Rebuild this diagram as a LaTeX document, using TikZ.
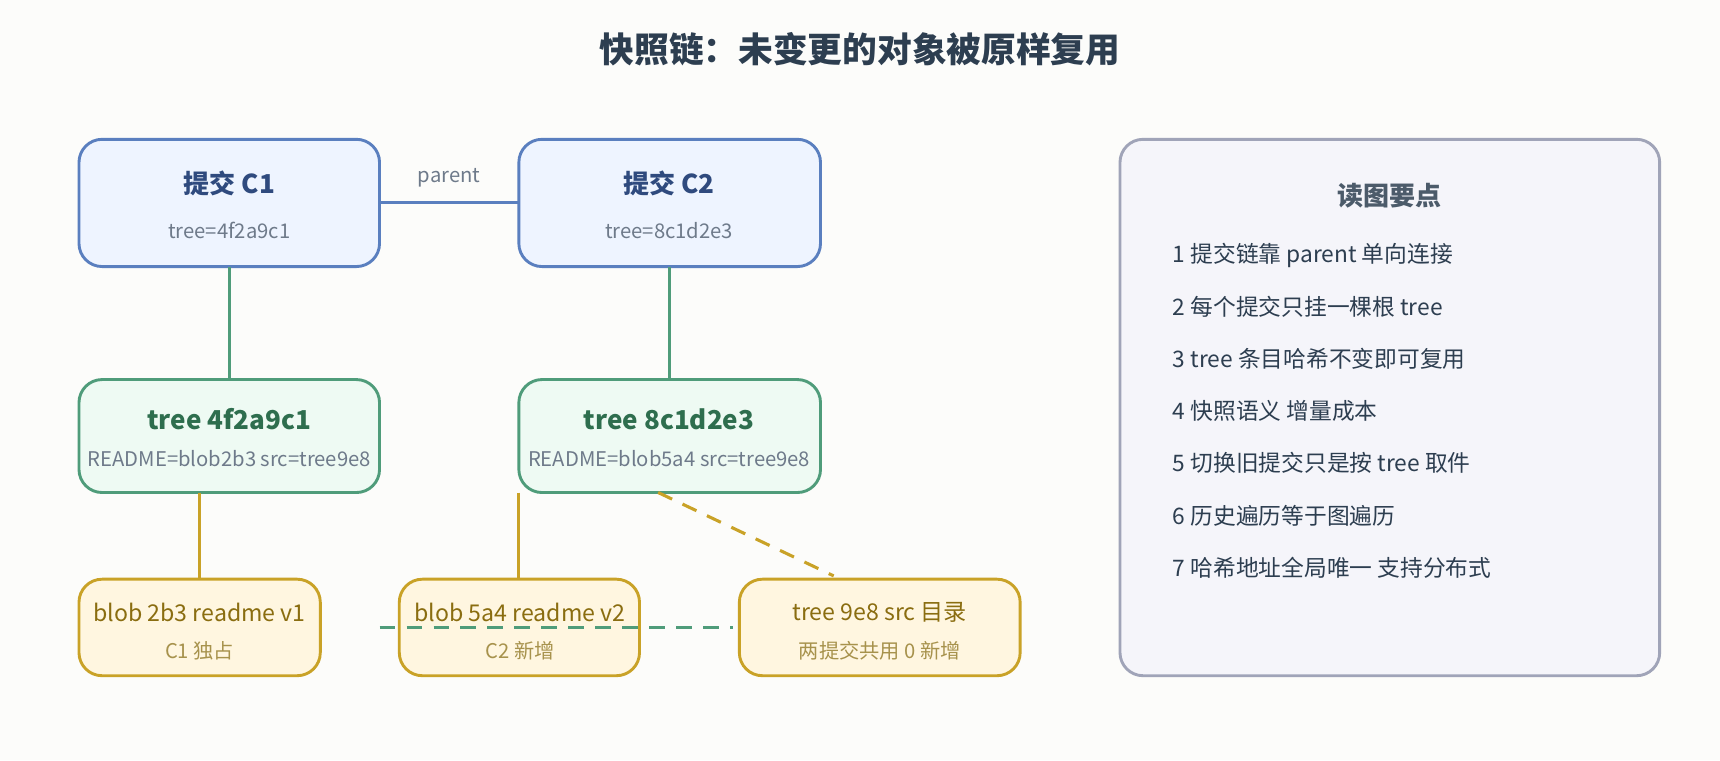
\documentclass[tikz,border=0pt]{standalone}
\usepackage{fontspec}
\setmainfont{Noto Sans CJK SC}
\usetikzlibrary{positioning}
\definecolor{bgc}{HTML}{FCFCFA}
\definecolor{titlec}{HTML}{2D3E50}
\definecolor{cfill}{HTML}{EEF4FF}
\definecolor{cdraw}{HTML}{5A7FBF}
\definecolor{ctext}{HTML}{2F4A7E}
\definecolor{tfill}{HTML}{EEFAF3}
\definecolor{tdraw}{HTML}{4F9C7A}
\definecolor{ttext}{HTML}{2E6E4E}
\definecolor{bfill}{HTML}{FFF6E0}
\definecolor{bdraw}{HTML}{C9A227}
\definecolor{btext}{HTML}{8A6D10}
\definecolor{pfill}{HTML}{F5F5FA}
\definecolor{pdraw}{HTML}{A0A4B8}
\definecolor{subc}{HTML}{6E7A8A}

\begin{document}
\begin{tikzpicture}[x=0.02cm, y=-0.02cm, line width=1.6pt]
				\tikzstyle{box}=[draw, line width=1.5pt, rounded corners=12pt]
				\tikzstyle{head}=[font=\bfseries\fontsize{13.5}{16}\selectfont]
				\tikzstyle{sub}=[font=\fontsize{10.5}{12}\selectfont]
				\tikzstyle{blob}=[text=btext, font=\fontsize{12}{14}\selectfont]
				\tikzstyle{item}=[anchor=west, text=titlec, font=\fontsize{11.8}{14}\selectfont]

				\fill[bgc] (0,0) rectangle (1568,693);
				\node[text=titlec, font=\bfseries\fontsize{18}{21}\selectfont] (title) at (784,45) {快照链：未变更的对象被原样复用};

				% commits
				\draw[box, fill=cfill, draw=cdraw] (72,127) rectangle (346,243);
				\draw[box, fill=cfill, draw=cdraw] (473,127) rectangle (748,243);
				\node[head, text=ctext] (c1) at (209,167) {提交 C1};
				\node[sub, text=subc] (c1s) at (209,210) {tree=4f2a9c1};
				\node[head, text=ctext] (c2) at (610,167) {提交 C2};
				\node[sub, text=subc] (c2s) at (610,210) {tree=8c1d2e3};
				\coordinate (c1r) at (346,185);
				\coordinate (c2l) at (473,185);
				\draw[cdraw] (c1r) -- node[above=4pt, sub, text=subc]{parent} (c2l);

				% trees
				\draw[box, fill=tfill, draw=tdraw] (72,346) rectangle (346,449);
				\draw[box, fill=tfill, draw=tdraw] (473,346) rectangle (748,449);
				\node[head, text=ttext] (t1) at (209,382) {tree 4f2a9c1};
				\node[sub, text=subc] (t1s) at (209,418) {README=blob2b3 src=tree9e8};
				\node[head, text=ttext] (t2) at (610,382) {tree 8c1d2e3};
				\node[sub, text=subc] (t2s) at (610,418) {README=blob5a4 src=tree9e8};
				\coordinate (c1b) at (209,243); \coordinate (t1t) at (209,346);
				\coordinate (c2b) at (610,243); \coordinate (t2t) at (610,346);
				\draw[tdraw] (c1b) -- (t1t);
				\draw[tdraw] (c2b) -- (t2t);

				% blobs
				\draw[box, fill=bfill, draw=bdraw] (72,528) rectangle (292,616);
				\draw[box, fill=bfill, draw=bdraw] (364,528) rectangle (583,616);
				\draw[box, fill=bfill, draw=bdraw] (674,528) rectangle (930,616);
				\node[blob] (b1) at (182,558) {blob 2b3 readme v1};
				\node[sub, text=btext!75] (b1s) at (182,593) {C1 独占};
				\node[blob] (b2) at (474,558) {blob 5a4 readme v2};
				\node[sub, text=btext!75] (b2s) at (474,593) {C2 新增};
				\node[blob] (b3) at (802,558) {tree 9e8 src 目录};
				\node[sub, text=btext!75] (b3s) at (802,593) {两提交共用 0 新增};
				\coordinate (t1b) at (182,449); \coordinate (b1t) at (182,528);
				\coordinate (t2b) at (473,449); \coordinate (b2t) at (473,528);
				\coordinate (t2d) at (600,449); \coordinate (b3t) at (760,525);
				\draw[bdraw] (t1b) -- (b1t);
				\draw[bdraw] (t2b) -- (b2t);
				\draw[bdraw, dash pattern=on 8pt off 6pt] (t2d) -- (b3t);
				\coordinate (sl) at (346,572); \coordinate (sr) at (668,572);
				\draw[tdraw, dash pattern=on 8pt off 6pt] (sl) -- (sr);

				% notes
				\draw[box, fill=pfill, draw=pdraw] (1021,127) rectangle (1513,616);
				\node[head, text=titlec!85] (nh) at (1267,178) {读图要点};
				\node[item] (n1) at (1062,233) {1 提交链靠 parent 单向连接};
				\node[item] (n2) at (1062,280) {2 每个提交只挂一棵根 tree};
				\node[item] (n3) at (1062,327) {3 tree 条目哈希不变即可复用};
				\node[item] (n4) at (1062,375) {4 快照语义 增量成本};
				\node[item] (n5) at (1062,422) {5 切换旧提交只是按 tree 取件};
				\node[item] (n6) at (1062,470) {6 历史遍历等于图遍历};
				\node[item] (n7) at (1062,518) {7 哈希地址全局唯一 支持分布式};
		  \end{tikzpicture}
\end{document}
